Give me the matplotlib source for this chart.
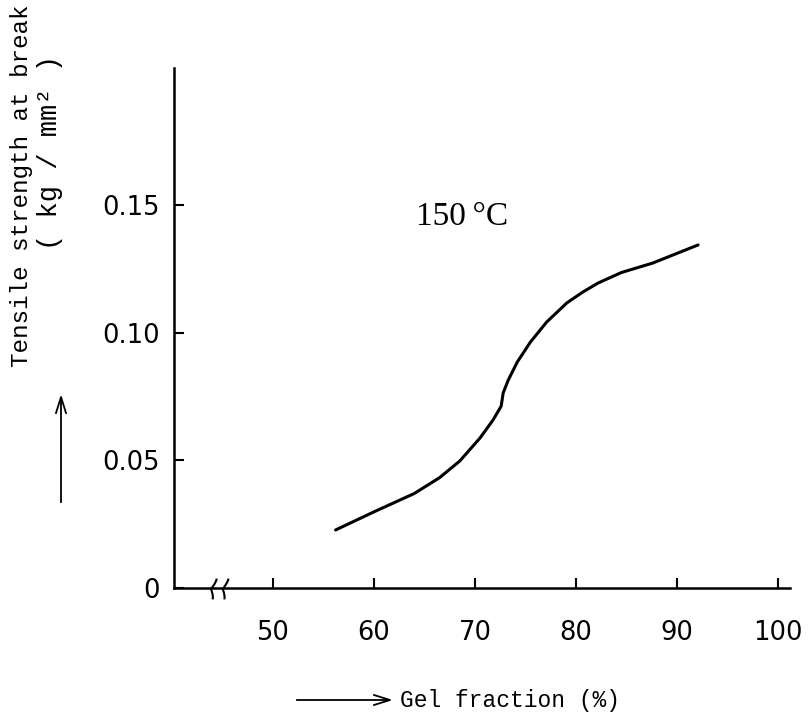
import numpy as np
import matplotlib.pyplot as plt

# values (gel fraction %, tensile strength kg/mm2)
gel = [56.2, 60.0, 64.0, 66.5, 68.5, 70.5, 71.8, 72.6, 72.8, 73.3, 74.2, 75.5,
       77.1, 79.1, 80.7, 82.2, 84.5, 87.6, 92.1]
strength = [0.0227, 0.0298, 0.0370, 0.0432, 0.0497, 0.0587, 0.0658, 0.0712, 0.0764,
            0.0814, 0.0885, 0.0963, 0.1041, 0.1116, 0.1159, 0.1194, 0.1235, 0.1272,
            0.1343]
x_ticks = [50, 60, 70, 80, 90, 100]
y_ticks = [0, 0.05, 0.10, 0.15]
y_labels = ['0', '0.05', '0.10', '0.15']

fig = plt.figure(figsize=(8.1, 7.16), dpi=100)
ax = fig.add_axes([0.2148, 0.1788, 0.7605, 0.7263])

ax.plot(gel, strength, color='black', lw=2.2, solid_capstyle='round',
        solid_joinstyle='round')

ax.set_xlim(40.2, 101.2)
ax.set_ylim(0, 0.2036)
for s in ['top', 'right']:
    ax.spines[s].set_visible(False)
for s in ['left', 'bottom']:
    ax.spines[s].set_linewidth(1.8)

ax.set_xticks(x_ticks)
ax.set_yticks(y_ticks)
ax.set_yticklabels(y_labels)
ax.tick_params(direction='in', length=7, width=1.5, labelsize=18.5)
ax.tick_params(axis='x', pad=23)
ax.tick_params(axis='y', pad=10)

# axis break marks (curly)
t = np.linspace(-1, 1, 30)
for x0 in [0.066, 0.085]:
    ax.plot(x0 - 0.006 * (1 - np.abs(t)) ** 1.5 + 0.003 * t,
            -0.002 + 0.018 * t, transform=ax.transAxes,
            color='black', lw=1.5, clip_on=False)

ax.text(68.7, 0.1453, '150\u2009\u00b0C', fontsize=24, family='Liberation Serif',
        ha='center', va='center')

# y label, two lines, typewriter style
fig.text(22 / 810, 1 - 186 / 716, 'Tensile strength at break', rotation=90,
         family='Liberation Mono', fontsize=17.5, ha='center', va='center')
fig.text(50 / 810, 1 - 152 / 716, '( kg / mm\u00b2 )', rotation=90,
         family='Liberation Mono', fontsize=19.5, ha='center', va='center')

# upward arrow beside the y label
fig.add_artist(plt.Line2D([61 / 810, 61 / 810], [1 - 502 / 716, 1 - 399 / 716],
                          color='black', lw=1.3))
fig.add_artist(plt.Line2D([56 / 810, 61 / 810, 66 / 810],
                          [1 - 413 / 716, 1 - 397 / 716, 1 - 413 / 716],
                          color='black', lw=1.3))

# x label with arrow
fig.add_artist(plt.Line2D([297 / 810, 388 / 810], [1 - 700 / 716, 1 - 700 / 716],
                          color='black', lw=1.3))
fig.add_artist(plt.Line2D([374 / 810, 390 / 810, 374 / 810],
                          [1 - 695 / 716, 1 - 700 / 716, 1 - 705 / 716],
                          color='black', lw=1.3))
fig.text(400 / 810, 1 - 700 / 716, 'Gel fraction (%)', family='Liberation Mono',
         fontsize=16.5, ha='left', va='center')

fig.savefig('out.png', dpi=100)
